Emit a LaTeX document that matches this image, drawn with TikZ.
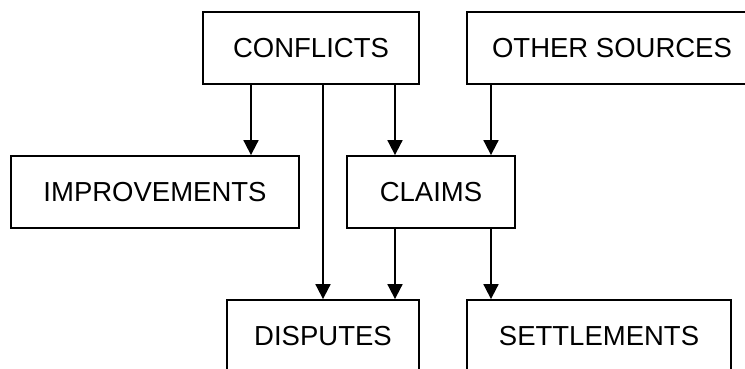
\documentclass[tikz,border=0pt]{standalone}
\usepackage{fontspec}
\setmainfont{Liberation Sans}
\usetikzlibrary{arrows.meta}
\begin{document}
\begin{tikzpicture}[x=1pt,y=-1pt,
  box/.style={draw, line width=1.8pt, rectangle, inner sep=0pt, minimum height=72pt,
    font=\fontsize{27.5}{30}\selectfont},
  arr/.style={line width=1.8pt, -{Triangle[length=15pt,width=15pt]}}]
  \useasboundingbox (0,0) rectangle (745,369);
  \clip (0,0) rectangle (745,369);
  % boxes (centres in page coordinates)
  \node[box, minimum width=216pt] (conflicts) at (311,48) {CONFLICTS};
  \node[box, minimum width=290pt] (other) at (612,48) {OTHER SOURCES};
  \node[box, minimum width=288pt] (improv) at (155,192) {IMPROVEMENTS};
  \node[box, minimum width=168pt] (claims) at (431,192) {CLAIMS};
  \node[box, minimum width=192pt] (disputes) at (323,336) {DISPUTES};
  \node[box, minimum width=264pt] (settle) at (599,336) {SETTLEMENTS};
  % vertical connector lanes
  \coordinate (l1) at (251,0);
  \coordinate (l2) at (323,0);
  \coordinate (l3) at (395,0);
  \coordinate (l4) at (491,0);
  % connectors
  \draw[arr] (conflicts.south -| l1) -- (improv.north -| l1);
  \draw[arr] (conflicts.south -| l2) -- (disputes.north -| l2);
  \draw[arr] (conflicts.south -| l3) -- (claims.north -| l3);
  \draw[arr] (other.south -| l4) -- (claims.north -| l4);
  \draw[arr] (claims.south -| l3) -- (disputes.north -| l3);
  \draw[arr] (claims.south -| l4) -- (settle.north -| l4);
\end{tikzpicture}
\end{document}
